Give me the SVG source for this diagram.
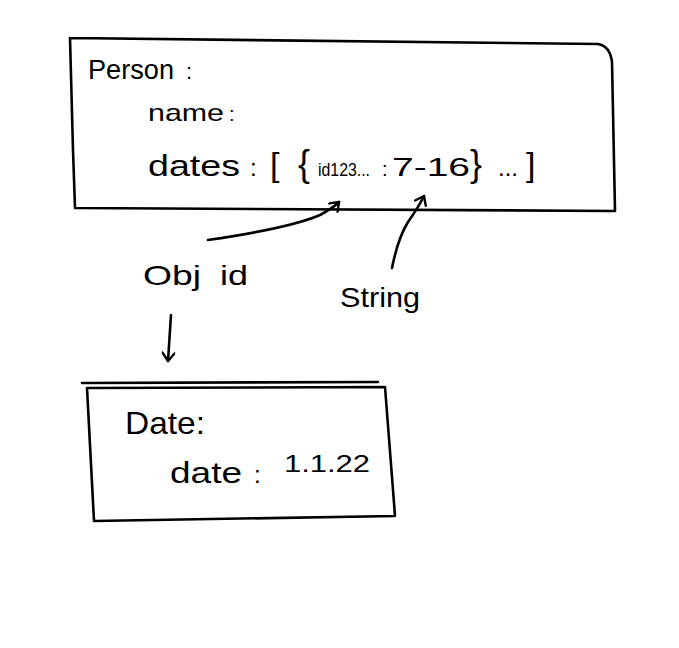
<svg xmlns="http://www.w3.org/2000/svg" width="679" height="648" viewBox="0 0 679 648">
<style>
.ln{fill:none;stroke:#000;stroke-width:2.6;stroke-linecap:round;stroke-linejoin:round}
.t{font-family:"Liberation Sans","DejaVu Sans",sans-serif;fill:#000}
</style>
<defs>
<marker id="ah" markerWidth="14" markerHeight="14" refX="10" refY="7" orient="auto" markerUnits="userSpaceOnUse">
<path d="M2,1 L10,7 L2,13" fill="none" stroke="#000" stroke-width="2.4" stroke-linecap="round" stroke-linejoin="round"/>
</marker>
</defs>
<rect width="679" height="648" fill="#fff"/>
<g id="person">
<path class="ln" d="M70,38 L598,44 Q610,46 612,62 L615,211 L75,208 L73,150 L70,38"/>
<text class="t" x="88" y="79" font-size="28" textLength="86" lengthAdjust="spacingAndGlyphs">Person</text>
<text class="t" x="186" y="79" font-size="22">:</text>
<text class="t" x="148" y="121" font-size="24" textLength="76" lengthAdjust="spacingAndGlyphs">name</text>
<text class="t" x="229" y="121" font-size="20">:</text>
<text class="t" y="176" font-size="30"><tspan x="148" textLength="92" lengthAdjust="spacingAndGlyphs">dates</tspan><tspan x="250" font-size="24">:</tspan><tspan x="270" font-size="34">[</tspan><tspan x="298" font-size="36">{</tspan><tspan x="318" font-size="18" textLength="52" lengthAdjust="spacingAndGlyphs">id123...</tspan><tspan x="382" font-size="20">:</tspan><tspan x="392" font-size="26" textLength="78" lengthAdjust="spacingAndGlyphs">7-16</tspan><tspan x="470" font-size="36">}</tspan><tspan x="498" font-size="24">...</tspan><tspan x="526" font-size="34">]</tspan></text>
</g>
<g id="objid">
<text class="t" x="143" y="285" font-size="28" textLength="58" lengthAdjust="spacingAndGlyphs">Obj</text>
<text class="t" x="220" y="285" font-size="28" textLength="28" lengthAdjust="spacingAndGlyphs">id</text>
</g>
<g id="string">
<text class="t" x="340" y="307" font-size="28" textLength="80" lengthAdjust="spacingAndGlyphs">String</text>
</g>
<g id="date">
<path class="ln" d="M82,383 L378,382"/>
<path class="ln" d="M87,388 L385,387 L393,490 L395,516 L94,521 L87,388"/>
<text class="t" x="125" y="434" font-size="32" textLength="80" lengthAdjust="spacingAndGlyphs">Date:</text>
<text class="t" x="170" y="483" font-size="30" textLength="72" lengthAdjust="spacingAndGlyphs">date</text>
<text class="t" x="254" y="483" font-size="24">:</text>
<text class="t" x="284" y="472" font-size="24" textLength="86" lengthAdjust="spacingAndGlyphs">1.1.22</text>
</g>
<g id="connectors">
<path class="ln" d="M208,240 Q290,228 320,215 Q333,208 339,202" marker-end="url(#ah)"/>
<path class="ln" d="M392,268 Q398,238 408,222 Q418,208 424,196" marker-end="url(#ah)"/>
<path class="ln" d="M171,315 L168,361" marker-end="url(#ah)"/>
</g>
</svg>
